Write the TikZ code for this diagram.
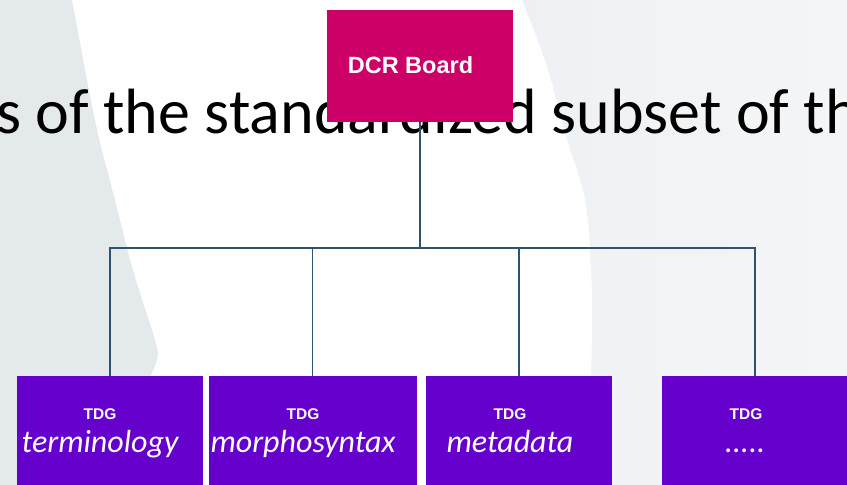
\documentclass[tikz,border=0pt]{standalone}
\usepackage{fontspec}
\setmainfont{Carlito}
\newfontfamily\headfont{Liberation Sans}
\definecolor{boardpink}{HTML}{CC0066}
\definecolor{tdgviolet}{HTML}{6600CC}
\definecolor{linkblue}{HTML}{2F5272}
\definecolor{bgleft}{HTML}{E4E9EC}
\definecolor{bgright}{HTML}{EDF0F3}
\definecolor{bgrightlight}{HTML}{F4F5F7}
\tikzset{
  boardbox/.style={fill=boardpink, draw=none, minimum width=186pt, minimum height=112pt, inner sep=0pt},
  tdgbox/.style={fill=tdgviolet, draw=none, minimum height=112pt, inner sep=0pt},
  boardlabel/.style={text=white, font=\headfont\bfseries\fontsize{23.5}{25}\selectfont, inner sep=0pt, anchor=base},
  tdglabel/.style={text=white, font=\headfont\bfseries\fontsize{15.5}{17}\selectfont, inner sep=0pt, anchor=base},
  grouplabel/.style={text=white, font=\itshape\fontsize{32}{34}\selectfont, inner sep=0pt, anchor=base},
  link/.style={draw=linkblue, line width=2pt},
  drop/.style={draw=linkblue, line width=1.8pt},
}
\begin{document}
\begin{tikzpicture}[x=1pt, y=-1pt]
  \useasboundingbox (0,0) rectangle (847,485);
  \clip (0,0) rectangle (847,485);

  % slide background
  \fill[bgleft] (0,0) rectangle (847,485);
  \shade[left color=bgright, right color=bgrightlight] (450,0) rectangle (847,485);
  \fill[white]
    plot[smooth, tension=0.6] coordinates {(518,-10) (522,0) (547,67) (565,133) (585,200) (591,270) (592,330) (590,400) (586,495)}
    -- (140,495)
    -- plot[smooth, tension=0.6] coordinates {(146,385) (157,360) (155,340) (133,270) (115,200) (95,120) (72,0) (69,-10)}
    -- cycle;

  % title line behind the chart
  \node[anchor=base west, inner sep=0pt, font=\fontsize{64}{66}\selectfont] (title) at (-4,133)
    {s of the standardized subset of the};

  % boxes
  \node[boardbox] (dcr) at (420,66) {};
  \node[boardlabel] (dcrtext) at (410.5,73) {DCR Board};

  \node[tdgbox, minimum width=186pt] (b1) at (110,432) {};
  \node[tdgbox, minimum width=208pt] (b2) at (312.5,432) {};
  \node[tdgbox, minimum width=186pt] (b3) at (519,432) {};
  \node[tdgbox, minimum width=186pt] (b4) at (755,432) {};

  \node[tdglabel] (h1) at (100,419) {TDG};
  \node[tdglabel] (h2) at (303,419) {TDG};
  \node[tdglabel] (h3) at (510,419) {TDG};
  \node[tdglabel] (h4) at (746,419) {TDG};

  \node[grouplabel] (g1) at (100,452) {terminology};
  \node[grouplabel] (g2) at (303,452) {morphosyntax};
  \node[grouplabel] (g3) at (510,452) {metadata};
  \node[grouplabel] (g4) at (745,452) {.....};

  % connectors
  \coordinate (hub) at (420,248);
  \draw[link] (dcr.south) -- (hub);
  \draw[drop] (b1.north) |- (hub);
  \draw[drop] (b4.north) |- (hub);
  \draw[drop] (b2.north) -- (b2.north |- hub);
  \draw[drop] (b3.north) -- (b3.north |- hub);
\end{tikzpicture}
\end{document}
